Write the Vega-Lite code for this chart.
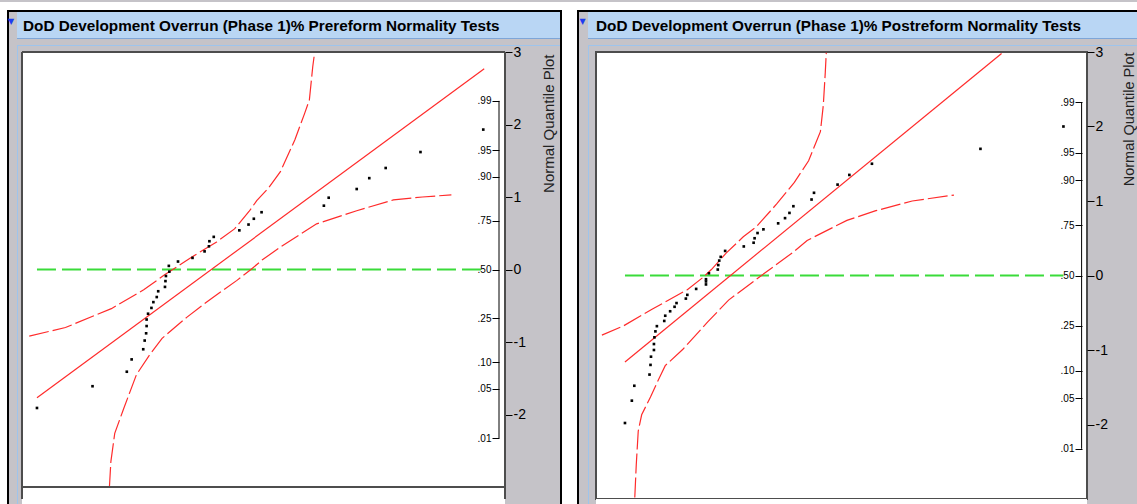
{
  "$schema": "https://vega.github.io/schema/vega-lite/v6.json",
  "background": "#C5C3C8",
  "padding": 0,
  "autosize": {"type": "pad"},
  "config": {"view": {"stroke": null}},
  "data": {"values": [{}]},
  "columns": 15,
  "align": "none",
  "bounds": "flush",
  "spacing": 0,
  "concat": [
    {"width": 7, "height": 8, "view": {"fill": "#ffffff"}, "mark": {"type": "text", "text": ""}},
    {"width": 2, "height": 8, "view": {"fill": "#ffffff"}, "mark": {"type": "text", "text": ""}},
    {"width": 8, "height": 8, "view": {"fill": "#ffffff"}, "mark": {"type": "text", "text": ""}},
    {"width": 1, "height": 8, "view": {"fill": "#ffffff"}, "mark": {"type": "text", "text": ""}},
    {"width": 4, "height": 8, "view": {"fill": "#ffffff"}, "mark": {"type": "text", "text": ""}},
    {"width": 483, "height": 8, "view": {"fill": "#ffffff"}, "mark": {"type": "text", "text": ""}},
    {"width": 55, "height": 8, "view": {"fill": "#ffffff"}, "mark": {"type": "text", "text": ""}},
    {"width": 2, "height": 8, "view": {"fill": "#ffffff"}, "mark": {"type": "text", "text": ""}},
    {"width": 15, "height": 8, "view": {"fill": "#ffffff"}, "mark": {"type": "text", "text": ""}},
    {"width": 2, "height": 8, "view": {"fill": "#ffffff"}, "mark": {"type": "text", "text": ""}},
    {"width": 9, "height": 8, "view": {"fill": "#ffffff"}, "mark": {"type": "text", "text": ""}},
    {"width": 1, "height": 8, "view": {"fill": "#ffffff"}, "mark": {"type": "text", "text": ""}},
    {"width": 7, "height": 8, "view": {"fill": "#ffffff"}, "mark": {"type": "text", "text": ""}},
    {"width": 491, "height": 8, "view": {"fill": "#ffffff"}, "mark": {"type": "text", "text": ""}},
    {"width": 50, "height": 8, "view": {"fill": "#ffffff"}, "mark": {"type": "text", "text": ""}},

    {"width": 7, "height": 2, "view": {"fill": "#ffffff"}, "mark": {"type": "text", "text": ""}},
    {"width": 2, "height": 2, "view": {"fill": "#000000"}, "mark": {"type": "text", "text": ""}},
    {"width": 8, "height": 2, "view": {"fill": "#000000"}, "mark": {"type": "text", "text": ""}},
    {"width": 1, "height": 2, "view": {"fill": "#000000"}, "mark": {"type": "text", "text": ""}},
    {"width": 4, "height": 2, "view": {"fill": "#000000"}, "mark": {"type": "text", "text": ""}},
    {"width": 483, "height": 2, "view": {"fill": "#000000"}, "mark": {"type": "text", "text": ""}},
    {"width": 55, "height": 2, "view": {"fill": "#000000"}, "mark": {"type": "text", "text": ""}},
    {"width": 2, "height": 2, "view": {"fill": "#000000"}, "mark": {"type": "text", "text": ""}},
    {"width": 15, "height": 2, "view": {"fill": "#ffffff"}, "mark": {"type": "text", "text": ""}},
    {"width": 2, "height": 2, "view": {"fill": "#000000"}, "mark": {"type": "text", "text": ""}},
    {"width": 9, "height": 2, "view": {"fill": "#000000"}, "mark": {"type": "text", "text": ""}},
    {"width": 1, "height": 2, "view": {"fill": "#000000"}, "mark": {"type": "text", "text": ""}},
    {"width": 7, "height": 2, "view": {"fill": "#000000"}, "mark": {"type": "text", "text": ""}},
    {"width": 491, "height": 2, "view": {"fill": "#000000"}, "mark": {"type": "text", "text": ""}},
    {"width": 50, "height": 2, "view": {"fill": "#000000"}, "mark": {"type": "text", "text": ""}},

    {"width": 7, "height": 26, "view": {"fill": "#ffffff"}, "mark": {"type": "text", "text": ""}},
    {"width": 2, "height": 26, "view": {"fill": "#000000"}, "mark": {"type": "text", "text": ""}},
    {"width": 8, "height": 26, "data": {"values": [{"icon": "▼"}]}, "mark": {"type": "text", "font": "DejaVu Sans", "fontSize": 8, "color": "#1E3CF0", "dx": -2, "dy": -3}, "encoding": {"text": {"field": "icon"}}},
    {"width": 1, "height": 26, "view": {"fill": "#B9D6F4"}, "mark": {"type": "text", "text": ""}},
    {"width": 4, "height": 26, "view": {"fill": "#B9D6F4"}, "mark": {"type": "text", "text": ""}},
    {
      "width": 483, "height": 26, "view": {"fill": "#B9D6F4"},
      "data": {"values": [{"title": "DoD Development Overrun (Phase 1)% Prereform Normality Tests"}]},
      "mark": {"type": "text", "align": "left", "baseline": "middle", "font": "Liberation Sans", "fontWeight": "bold", "fontSize": 15.3, "color": "#000000", "dx": 1, "dy": 1, "limit": 482},
      "encoding": {"text": {"field": "title"}, "x": {"datum": 0, "type": "quantitative", "scale": {"domain": [0, 1]}, "axis": null}}
    },
    {"width": 55, "height": 26, "view": {"fill": "#B9D6F4"}, "mark": {"type": "text", "text": ""}},
    {"width": 2, "height": 26, "view": {"fill": "#000000"}, "mark": {"type": "text", "text": ""}},
    {"width": 15, "height": 26, "view": {"fill": "#ffffff"}, "mark": {"type": "text", "text": ""}},
    {"width": 2, "height": 26, "view": {"fill": "#000000"}, "mark": {"type": "text", "text": ""}},
    {"width": 9, "height": 26, "data": {"values": [{"icon": "▼"}]}, "mark": {"type": "text", "font": "DejaVu Sans", "fontSize": 8, "color": "#1E3CF0", "dx": -1, "dy": -3}, "encoding": {"text": {"field": "icon"}}},
    {"width": 1, "height": 26, "view": {"fill": "#B9D6F4"}, "mark": {"type": "text", "text": ""}},
    {"width": 7, "height": 26, "view": {"fill": "#B9D6F4"}, "mark": {"type": "text", "text": ""}},
    {
      "width": 491, "height": 26, "view": {"fill": "#B9D6F4"},
      "data": {"values": [{"title": "DoD Development Overrun (Phase 1)% Postreform Normality Tests"}]},
      "mark": {"type": "text", "align": "left", "baseline": "middle", "font": "Liberation Sans", "fontWeight": "bold", "fontSize": 15.3, "color": "#000000", "dx": 0, "dy": 1, "limit": 490},
      "encoding": {"text": {"field": "title"}, "x": {"datum": 0, "type": "quantitative", "scale": {"domain": [0, 1]}, "axis": null}}
    },
    {"width": 50, "height": 26, "view": {"fill": "#B9D6F4"}, "mark": {"type": "text", "text": ""}},

    {"width": 7, "height": 1, "view": {"fill": "#ffffff"}, "mark": {"type": "text", "text": ""}},
    {"width": 2, "height": 1, "view": {"fill": "#000000"}, "mark": {"type": "text", "text": ""}},
    {"width": 8, "height": 1, "mark": {"type": "text", "text": ""}},
    {"width": 1, "height": 1, "view": {"fill": "#7EA6D8"}, "mark": {"type": "text", "text": ""}},
    {"width": 4, "height": 1, "view": {"fill": "#7EA6D8"}, "mark": {"type": "text", "text": ""}},
    {"width": 483, "height": 1, "view": {"fill": "#7EA6D8"}, "mark": {"type": "text", "text": ""}},
    {"width": 55, "height": 1, "view": {"fill": "#7EA6D8"}, "mark": {"type": "text", "text": ""}},
    {"width": 2, "height": 1, "view": {"fill": "#000000"}, "mark": {"type": "text", "text": ""}},
    {"width": 15, "height": 1, "view": {"fill": "#ffffff"}, "mark": {"type": "text", "text": ""}},
    {"width": 2, "height": 1, "view": {"fill": "#000000"}, "mark": {"type": "text", "text": ""}},
    {"width": 9, "height": 1, "mark": {"type": "text", "text": ""}},
    {"width": 1, "height": 1, "view": {"fill": "#7EA6D8"}, "mark": {"type": "text", "text": ""}},
    {"width": 7, "height": 1, "view": {"fill": "#7EA6D8"}, "mark": {"type": "text", "text": ""}},
    {"width": 491, "height": 1, "view": {"fill": "#7EA6D8"}, "mark": {"type": "text", "text": ""}},
    {"width": 50, "height": 1, "view": {"fill": "#7EA6D8"}, "mark": {"type": "text", "text": ""}},

    {"width": 7, "height": 6, "view": {"fill": "#ffffff"}, "mark": {"type": "text", "text": ""}},
    {"width": 2, "height": 6, "view": {"fill": "#000000"}, "mark": {"type": "text", "text": ""}},
    {"width": 8, "height": 6, "mark": {"type": "text", "text": ""}},
    {"width": 1, "height": 6, "mark": {"type": "text", "text": ""}},
    {"width": 4, "height": 6, "mark": {"type": "text", "text": ""}},
    {"width": 483, "height": 6, "mark": {"type": "text", "text": ""}},
    {"width": 55, "height": 6, "mark": {"type": "text", "text": ""}},
    {"width": 2, "height": 6, "view": {"fill": "#000000"}, "mark": {"type": "text", "text": ""}},
    {"width": 15, "height": 6, "view": {"fill": "#ffffff"}, "mark": {"type": "text", "text": ""}},
    {"width": 2, "height": 6, "view": {"fill": "#000000"}, "mark": {"type": "text", "text": ""}},
    {"width": 9, "height": 6, "mark": {"type": "text", "text": ""}},
    {"width": 1, "height": 6, "mark": {"type": "text", "text": ""}},
    {"width": 7, "height": 6, "mark": {"type": "text", "text": ""}},
    {"width": 491, "height": 6, "mark": {"type": "text", "text": ""}},
    {"width": 50, "height": 6, "mark": {"type": "text", "text": ""}},

    {"width": 7, "height": 1, "view": {"fill": "#ffffff"}, "mark": {"type": "text", "text": ""}},
    {"width": 2, "height": 1, "view": {"fill": "#000000"}, "mark": {"type": "text", "text": ""}},
    {"width": 8, "height": 1, "mark": {"type": "text", "text": ""}},
    {"width": 1, "height": 1, "view": {"fill": "#9EC4EC"}, "mark": {"type": "text", "text": ""}},
    {"width": 4, "height": 1, "view": {"fill": "#9EC4EC"}, "mark": {"type": "text", "text": ""}},
    {"width": 483, "height": 1, "view": {"fill": "#9EC4EC"}, "mark": {"type": "text", "text": ""}},
    {"width": 55, "height": 1, "view": {"fill": "#9EC4EC"}, "mark": {"type": "text", "text": ""}},
    {"width": 2, "height": 1, "view": {"fill": "#000000"}, "mark": {"type": "text", "text": ""}},
    {"width": 15, "height": 1, "view": {"fill": "#ffffff"}, "mark": {"type": "text", "text": ""}},
    {"width": 2, "height": 1, "view": {"fill": "#000000"}, "mark": {"type": "text", "text": ""}},
    {"width": 9, "height": 1, "mark": {"type": "text", "text": ""}},
    {"width": 1, "height": 1, "view": {"fill": "#9EC4EC"}, "mark": {"type": "text", "text": ""}},
    {"width": 7, "height": 1, "view": {"fill": "#9EC4EC"}, "mark": {"type": "text", "text": ""}},
    {"width": 491, "height": 1, "view": {"fill": "#9EC4EC"}, "mark": {"type": "text", "text": ""}},
    {"width": 50, "height": 1, "view": {"fill": "#9EC4EC"}, "mark": {"type": "text", "text": ""}},

    {"width": 7, "height": 6, "view": {"fill": "#ffffff"}, "mark": {"type": "text", "text": ""}},
    {"width": 2, "height": 6, "view": {"fill": "#000000"}, "mark": {"type": "text", "text": ""}},
    {"width": 8, "height": 6, "mark": {"type": "text", "text": ""}},
    {"width": 1, "height": 6, "view": {"fill": "#9EC4EC"}, "mark": {"type": "text", "text": ""}},
    {"width": 4, "height": 6, "mark": {"type": "text", "text": ""}},
    {"width": 483, "height": 6, "mark": {"type": "text", "text": ""}},
    {"width": 55, "height": 6, "mark": {"type": "text", "text": ""}},
    {"width": 2, "height": 6, "view": {"fill": "#000000"}, "mark": {"type": "text", "text": ""}},
    {"width": 15, "height": 6, "view": {"fill": "#ffffff"}, "mark": {"type": "text", "text": ""}},
    {"width": 2, "height": 6, "view": {"fill": "#000000"}, "mark": {"type": "text", "text": ""}},
    {"width": 9, "height": 6, "mark": {"type": "text", "text": ""}},
    {"width": 1, "height": 6, "view": {"fill": "#9EC4EC"}, "mark": {"type": "text", "text": ""}},
    {"width": 7, "height": 6, "mark": {"type": "text", "text": ""}},
    {"width": 491, "height": 6, "mark": {"type": "text", "text": ""}},
    {"width": 50, "height": 6, "mark": {"type": "text", "text": ""}},

    {"width": 7, "height": 447, "view": {"fill": "#ffffff"}, "mark": {"type": "text", "text": ""}},
    {"width": 2, "height": 447, "view": {"fill": "#000000"}, "mark": {"type": "text", "text": ""}},
    {"width": 8, "height": 447, "mark": {"type": "text", "text": ""}},
    {"width": 1, "height": 447, "view": {"fill": "#9EC4EC"}, "mark": {"type": "text", "text": ""}},
    {"width": 4, "height": 447, "mark": {"type": "text", "text": ""}},
    {
      "width": 483,
      "height": 447,
      "view": {"fill": "#ffffff"},
      "resolve": {"axis": {"y": "independent"}},
      "layer": [
        {
          "data": {"values": [{"xmin": 3.1, "xmax": 95.5, "z": 0}]},
          "mark": {"type": "rule", "color": "#3ADB3A", "strokeWidth": 2, "strokeDash": [19, 6]},
          "encoding": {
            "x": {"field": "xmin", "type": "quantitative", "scale": {"domain": [0, 100], "nice": false, "zero": false}, "axis": null},
            "x2": {"field": "xmax"},
            "y": {
              "field": "z", "type": "quantitative",
              "scale": {"domain": [-3.1655, 3], "nice": false, "zero": false},
              "axis": {
                "orient": "right", "values": [-2, -1, 0, 1, 2, 3], "labelExpr": "'' + datum.value",
                "tickSize": 7, "tickColor": "#000000", "tickWidth": 1, "domain": false, "grid": false,
                "labelPadding": 1, "labelFont": "Liberation Sans", "labelFontSize": 14, "labelColor": "#000000",
                "title": "Normal Quantile Plot", "titleAngle": 270, "titleX": 43, "titleY": 2,
                "titleAlign": "right", "titleBaseline": "middle", "titleFont": "Liberation Sans",
                "titleFontSize": 15, "titleFontWeight": "normal", "titleColor": "#222222"
              }
            }
          }
        },
        {
          "data": {"values": [
            {"band": "upper", "x": 1.5, "z": -0.92}, {"band": "upper", "x": 9.0, "z": -0.80}, {"band": "upper", "x": 18.5, "z": -0.54},
            {"band": "upper", "x": 25.2, "z": -0.28}, {"band": "upper", "x": 29.6, "z": -0.07}, {"band": "upper", "x": 35.1, "z": 0.17},
            {"band": "upper", "x": 40.3, "z": 0.38}, {"band": "upper", "x": 44.0, "z": 0.56}, {"band": "upper", "x": 47.0, "z": 0.80},
            {"band": "upper", "x": 48.6, "z": 0.95}, {"band": "upper", "x": 51.0, "z": 1.12}, {"band": "upper", "x": 53.5, "z": 1.35},
            {"band": "upper", "x": 56.5, "z": 1.79}, {"band": "upper", "x": 58.5, "z": 2.15}, {"band": "upper", "x": 59.5, "z": 2.34},
            {"band": "upper", "x": 60.2, "z": 2.80}, {"band": "upper", "x": 60.6, "z": 3.0},
            {"band": "lower", "x": 18.1, "z": -3.0}, {"band": "lower", "x": 18.4, "z": -2.65}, {"band": "lower", "x": 19.2, "z": -2.26},
            {"band": "lower", "x": 21.1, "z": -1.91}, {"band": "lower", "x": 23.7, "z": -1.45}, {"band": "lower", "x": 26.4, "z": -1.18},
            {"band": "lower", "x": 29.0, "z": -0.95}, {"band": "lower", "x": 34.1, "z": -0.66}, {"band": "lower", "x": 38.6, "z": -0.43},
            {"band": "lower", "x": 44.5, "z": -0.15}, {"band": "lower", "x": 47.4, "z": 0.0}, {"band": "lower", "x": 49.7, "z": 0.13},
            {"band": "lower", "x": 53.5, "z": 0.31}, {"band": "lower", "x": 61.0, "z": 0.63}, {"band": "lower", "x": 69.3, "z": 0.81},
            {"band": "lower", "x": 76.9, "z": 0.96}, {"band": "lower", "x": 82.9, "z": 1.0}, {"band": "lower", "x": 88.9, "z": 1.03}
          ]},
          "mark": {"type": "line", "color": "#FF2B2B", "strokeWidth": 1.2, "strokeDash": [20, 4]},
          "encoding": {
            "x": {"field": "x", "type": "quantitative", "axis": null},
            "y": {"field": "z", "type": "quantitative", "axis": null},
            "detail": {"field": "band"}
          }
        },
        {
          "data": {"values": [{"x": 3.1, "z": -1.77}, {"x": 95.7, "z": 2.77}]},
          "mark": {"type": "line", "color": "#FF2B2B", "strokeWidth": 1.2},
          "encoding": {
            "x": {"field": "x", "type": "quantitative", "axis": null},
            "y": {"field": "z", "type": "quantitative", "axis": null}
          }
        },
        {
          "data": {"values": [
            {"x": 95.5, "z": 1.93}, {"x": 82.5, "z": 1.62}, {"x": 75.3, "z": 1.40}, {"x": 71.9, "z": 1.26}, {"x": 69.3, "z": 1.11},
            {"x": 63.5, "z": 0.99}, {"x": 62.5, "z": 0.88}, {"x": 49.6, "z": 0.79}, {"x": 48.0, "z": 0.70}, {"x": 46.9, "z": 0.62},
            {"x": 45.0, "z": 0.54}, {"x": 39.7, "z": 0.45}, {"x": 38.8, "z": 0.39}, {"x": 38.7, "z": 0.32}, {"x": 37.8, "z": 0.25},
            {"x": 35.3, "z": 0.16}, {"x": 32.3, "z": 0.11}, {"x": 30.4, "z": 0.05}, {"x": 30.5, "z": -0.03}, {"x": 29.8, "z": -0.09},
            {"x": 29.7, "z": -0.16}, {"x": 29.6, "z": -0.24}, {"x": 28.2, "z": -0.30}, {"x": 27.9, "z": -0.38}, {"x": 27.2, "z": -0.45},
            {"x": 26.8, "z": -0.53}, {"x": 26.1, "z": -0.61}, {"x": 25.8, "z": -0.69}, {"x": 25.8, "z": -0.78}, {"x": 25.7, "z": -0.88},
            {"x": 25.4, "z": -0.98}, {"x": 25.1, "z": -1.10}, {"x": 22.7, "z": -1.24}, {"x": 21.7, "z": -1.41}, {"x": 14.6, "z": -1.61},
            {"x": 3.1, "z": -1.91}
          ]},
          "mark": {"type": "square", "size": 7, "color": "#000000", "opacity": 1, "filled": true},
          "encoding": {
            "x": {"field": "x", "type": "quantitative", "axis": null},
            "y": {"field": "z", "type": "quantitative", "axis": null}
          }
        },
        {
          "data": {"values": [{"x0": 0, "x1": 100, "edge": 3}, {"x0": 0, "x1": 100, "edge": -3}]},
          "mark": {"type": "rule", "color": "#4d4d4d", "strokeWidth": 2},
          "encoding": {
            "x": {"field": "x0", "type": "quantitative", "axis": null},
            "x2": {"field": "x1"},
            "y": {"field": "edge", "type": "quantitative", "axis": null}
          }
        },
        {
          "data": {"values": [{"side": 0, "lo": -3.1655, "hi": 3}, {"side": 100, "lo": -3.1655, "hi": 3}]},
          "mark": {"type": "rule", "color": "#4d4d4d", "strokeWidth": 2},
          "encoding": {
            "x": {"field": "side", "type": "quantitative", "axis": null},
            "y": {"field": "lo", "type": "quantitative", "axis": null},
            "y2": {"field": "hi"}
          }
        },
        {
          "data": {"values": [{"lo": -2.326, "hi": 2.326}]},
          "mark": {"type": "rule", "color": "#000000", "strokeWidth": 1},
          "encoding": {
            "x": {"datum": 98.76, "type": "quantitative"},
            "y": {
              "field": "lo", "type": "quantitative",
              "axis": {
                "orient": "left", "offset": -477, "values": [-2.326, -1.645, -1.2816, -0.6745, 0, 0.6745, 1.2816, 1.645, 2.326],
                "labelExpr": "datum.value > 2 ? '.99' : datum.value > 1.5 ? '.95' : datum.value > 1 ? '.90' : datum.value > 0.5 ? '.75' : datum.value > -0.5 ? '.50' : datum.value > -1 ? '.25' : datum.value > -1.5 ? '.10' : datum.value > -2 ? '.05' : '.01'",
                "tickSize": 7, "tickColor": "#000000", "tickWidth": 1, "domain": false, "grid": false,
                "labelPadding": 1, "labelFont": "Liberation Sans", "labelFontSize": 10, "labelColor": "#000000",
                "title": null
              }
            },
            "y2": {"field": "hi"}
          }
        }
      ]
    },
    {"width": 55, "height": 447, "mark": {"type": "text", "text": ""}},
    {"width": 2, "height": 447, "view": {"fill": "#000000"}, "mark": {"type": "text", "text": ""}},
    {"width": 15, "height": 447, "view": {"fill": "#ffffff"}, "mark": {"type": "text", "text": ""}},
    {"width": 2, "height": 447, "view": {"fill": "#000000"}, "mark": {"type": "text", "text": ""}},
    {"width": 9, "height": 447, "mark": {"type": "text", "text": ""}},
    {"width": 1, "height": 447, "view": {"fill": "#9EC4EC"}, "mark": {"type": "text", "text": ""}},
    {"width": 7, "height": 447, "mark": {"type": "text", "text": ""}},
    {
      "width": 491,
      "height": 447,
      "view": {"fill": "#ffffff", "stroke": "#4d4d4d", "strokeWidth": 2},
      "resolve": {"axis": {"y": "independent"}},
      "layer": [
        {
          "data": {"values": [{"xmin": 5.9, "xmax": 95.2, "z": 0}]},
          "mark": {"type": "rule", "color": "#3ADB3A", "strokeWidth": 2, "strokeDash": [19, 6]},
          "encoding": {
            "x": {"field": "xmin", "type": "quantitative", "scale": {"domain": [0, 100], "nice": false, "zero": false}, "axis": null},
            "x2": {"field": "xmax"},
            "y": {
              "field": "z", "type": "quantitative",
              "scale": {"domain": [-3, 3], "nice": false, "zero": false},
              "axis": {
                "orient": "right", "values": [-2, -1, 0, 1, 2, 3], "labelExpr": "'' + datum.value",
                "tickSize": 7, "tickColor": "#000000", "tickWidth": 1, "domain": false, "grid": false,
                "labelPadding": 1, "labelFont": "Liberation Sans", "labelFontSize": 14, "labelColor": "#000000",
                "title": "Normal Quantile Plot", "titleAngle": 270, "titleX": 42, "titleY": 0,
                "titleAlign": "right", "titleBaseline": "middle", "titleFont": "Liberation Sans",
                "titleFontSize": 14.5, "titleFontWeight": "normal", "titleColor": "#222222"
              }
            }
          }
        },
        {
          "data": {"values": [
            {"band": "upper", "x": 1.2, "z": -0.80}, {"band": "upper", "x": 5.5, "z": -0.68}, {"band": "upper", "x": 11.5, "z": -0.45},
            {"band": "upper", "x": 18.6, "z": -0.19}, {"band": "upper", "x": 21.9, "z": -0.02}, {"band": "upper", "x": 23.5, "z": 0.08},
            {"band": "upper", "x": 26.5, "z": 0.30}, {"band": "upper", "x": 30.0, "z": 0.52}, {"band": "upper", "x": 32.6, "z": 0.65},
            {"band": "upper", "x": 36.8, "z": 0.96}, {"band": "upper", "x": 40.4, "z": 1.25}, {"band": "upper", "x": 43.3, "z": 1.54},
            {"band": "upper", "x": 45.7, "z": 1.93}, {"band": "upper", "x": 46.3, "z": 2.29}, {"band": "upper", "x": 46.7, "z": 2.73},
            {"band": "upper", "x": 46.9, "z": 2.99},
            {"band": "lower", "x": 7.9, "z": -2.98}, {"band": "lower", "x": 8.2, "z": -2.54}, {"band": "lower", "x": 8.6, "z": -2.09},
            {"band": "lower", "x": 9.3, "z": -1.87}, {"band": "lower", "x": 11.1, "z": -1.63}, {"band": "lower", "x": 12.5, "z": -1.43},
            {"band": "lower", "x": 14.1, "z": -1.21}, {"band": "lower", "x": 17.7, "z": -0.99}, {"band": "lower", "x": 22.8, "z": -0.62},
            {"band": "lower", "x": 27.0, "z": -0.33}, {"band": "lower", "x": 33.7, "z": 0.0}, {"band": "lower", "x": 40.1, "z": 0.31},
            {"band": "lower", "x": 43.0, "z": 0.47}, {"band": "lower", "x": 51.1, "z": 0.74}, {"band": "lower", "x": 57.0, "z": 0.87},
            {"band": "lower", "x": 64.4, "z": 1.00}, {"band": "lower", "x": 72.9, "z": 1.08}
          ]},
          "mark": {"type": "line", "color": "#FF2B2B", "strokeWidth": 1.2, "strokeDash": [20, 4]},
          "encoding": {
            "x": {"field": "x", "type": "quantitative", "axis": null},
            "y": {"field": "z", "type": "quantitative", "axis": null},
            "detail": {"field": "band"}
          }
        },
        {
          "data": {"values": [{"x": 5.9, "z": -1.16}, {"x": 82.6, "z": 2.98}]},
          "mark": {"type": "line", "color": "#FF2B2B", "strokeWidth": 1.2},
          "encoding": {
            "x": {"field": "x", "type": "quantitative", "axis": null},
            "y": {"field": "z", "type": "quantitative", "axis": null}
          }
        },
        {
          "data": {"values": [
            {"x": 95.2, "z": 2.00}, {"x": 78.3, "z": 1.70}, {"x": 56.2, "z": 1.50}, {"x": 51.6, "z": 1.35}, {"x": 49.2, "z": 1.22},
            {"x": 44.4, "z": 1.11}, {"x": 43.9, "z": 1.02}, {"x": 40.2, "z": 0.93}, {"x": 39.4, "z": 0.84}, {"x": 38.5, "z": 0.77},
            {"x": 37.1, "z": 0.70}, {"x": 34.1, "z": 0.62}, {"x": 32.9, "z": 0.57}, {"x": 32.3, "z": 0.50}, {"x": 32.1, "z": 0.44},
            {"x": 30.1, "z": 0.39}, {"x": 26.3, "z": 0.33}, {"x": 25.4, "z": 0.25}, {"x": 25.1, "z": 0.20}, {"x": 24.9, "z": 0.14},
            {"x": 24.8, "z": 0.08}, {"x": 23.0, "z": 0.03}, {"x": 22.4, "z": -0.05}, {"x": 22.4, "z": -0.08}, {"x": 22.4, "z": -0.12},
            {"x": 20.4, "z": -0.18}, {"x": 18.6, "z": -0.26}, {"x": 18.3, "z": -0.31}, {"x": 16.4, "z": -0.37}, {"x": 16.0, "z": -0.42},
            {"x": 15.1, "z": -0.48}, {"x": 14.1, "z": -0.54}, {"x": 13.9, "z": -0.61}, {"x": 12.4, "z": -0.68}, {"x": 12.1, "z": -0.75},
            {"x": 11.9, "z": -0.83}, {"x": 11.8, "z": -0.92}, {"x": 11.8, "z": -1.00}, {"x": 11.2, "z": -1.09}, {"x": 11.1, "z": -1.20},
            {"x": 10.9, "z": -1.33}, {"x": 7.8, "z": -1.48}, {"x": 7.3, "z": -1.68}, {"x": 5.9, "z": -1.98}
          ]},
          "mark": {"type": "square", "size": 7, "color": "#000000", "opacity": 1, "filled": true},
          "encoding": {
            "x": {"field": "x", "type": "quantitative", "axis": null},
            "y": {"field": "z", "type": "quantitative", "axis": null}
          }
        },
        {
          "data": {"values": [{"lo": -2.326, "hi": 2.326}]},
          "mark": {"type": "rule", "color": "#000000", "strokeWidth": 1},
          "encoding": {
            "x": {"datum": 98.9, "type": "quantitative"},
            "y": {
              "field": "lo", "type": "quantitative",
              "axis": {
                "orient": "left", "offset": -486, "values": [-2.326, -1.645, -1.2816, -0.6745, 0, 0.6745, 1.2816, 1.645, 2.326],
                "labelExpr": "datum.value > 2 ? '.99' : datum.value > 1.5 ? '.95' : datum.value > 1 ? '.90' : datum.value > 0.5 ? '.75' : datum.value > -0.5 ? '.50' : datum.value > -1 ? '.25' : datum.value > -1.5 ? '.10' : datum.value > -2 ? '.05' : '.01'",
                "tickSize": 7, "tickColor": "#000000", "tickWidth": 1, "domain": false, "grid": false,
                "labelPadding": 1, "labelFont": "Liberation Sans", "labelFontSize": 10, "labelColor": "#000000",
                "title": null
              }
            },
            "y2": {"field": "hi"}
          }
        }
      ]
    },
    {"width": 50, "height": 447, "mark": {"type": "text", "text": ""}},

    {"width": 7, "height": 7, "view": {"fill": "#ffffff"}, "mark": {"type": "text", "text": ""}},
    {"width": 2, "height": 7, "view": {"fill": "#000000"}, "mark": {"type": "text", "text": ""}},
    {"width": 8, "height": 7, "mark": {"type": "text", "text": ""}},
    {"width": 1, "height": 7, "view": {"fill": "#9EC4EC"}, "mark": {"type": "text", "text": ""}},
    {"width": 4, "height": 7, "mark": {"type": "text", "text": ""}},
    {"width": 483, "height": 7, "view": {"fill": "#ffffff"}, "mark": {"type": "text", "text": ""}},
    {"width": 55, "height": 7, "mark": {"type": "text", "text": ""}},
    {"width": 2, "height": 7, "view": {"fill": "#000000"}, "mark": {"type": "text", "text": ""}},
    {"width": 15, "height": 7, "view": {"fill": "#ffffff"}, "mark": {"type": "text", "text": ""}},
    {"width": 2, "height": 7, "view": {"fill": "#000000"}, "mark": {"type": "text", "text": ""}},
    {"width": 9, "height": 7, "mark": {"type": "text", "text": ""}},
    {"width": 1, "height": 7, "view": {"fill": "#9EC4EC"}, "mark": {"type": "text", "text": ""}},
    {"width": 7, "height": 7, "mark": {"type": "text", "text": ""}},
    {"width": 491, "height": 7, "view": {"fill": "#ffffff"}, "mark": {"type": "text", "text": ""}},
    {"width": 50, "height": 7, "mark": {"type": "text", "text": ""}}
  ]
}
